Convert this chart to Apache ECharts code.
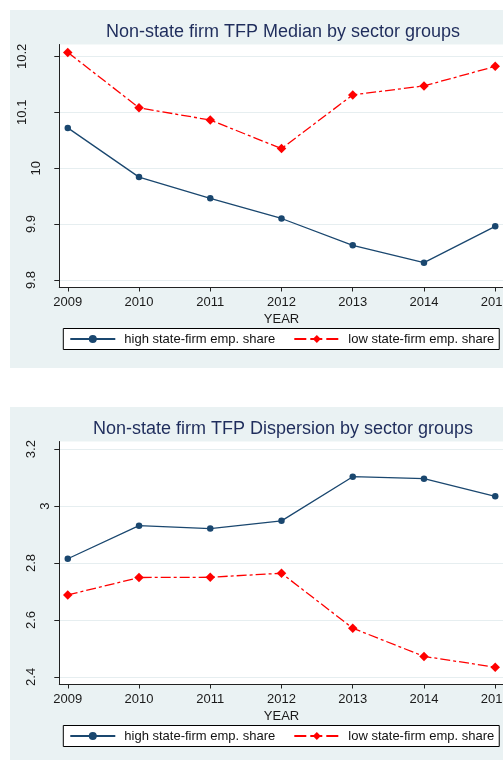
<!DOCTYPE html>
<html><head><meta charset="utf-8">
<script src="https://cdn.jsdelivr.net/npm/echarts@6/dist/echarts.min.js"></script>
<style>
html,body{margin:0;padding:0;width:503px;height:760px;overflow:hidden;background:#fff;position:relative}
.panel{position:absolute;left:10px;width:546px;background:#eaf2f3}
#c1{top:10px;height:358px}
#c2{top:407px;height:353px}
</style></head><body>
<div id="c1" class="panel"></div><div id="c2" class="panel"></div>
<script>
const years = [2009, 2010, 2011, 2012, 2013, 2014, 2015];
const medianHigh = [10.072, 9.984, 9.946, 9.910, 9.862, 9.831, 9.896];
const medianLow = [10.207, 10.108, 10.086, 10.035, 10.131, 10.147, 10.182];
const dispHigh = [2.815, 2.931, 2.921, 2.948, 3.103, 3.096, 3.034];
const dispLow = [2.688, 2.749, 2.750, 2.764, 2.571, 2.472, 2.434];
const medianTicks = [9.8, 9.9, 10, 10.1, 10.2];
const dispTicks = [2.4, 2.6, 2.8, 3, 3.2];
const seriesNames = ['high state-firm emp. share', 'low state-firm emp. share'];
const titles = ['Non-state firm TFP Median by sector groups', 'Non-state firm TFP Dispersion by sector groups'];
const xName = 'YEAR';

const FONT = '"Liberation Sans", Arial, sans-serif';
const navy = '#1a476f';
const red = '#ff0000';
const ctx = document.createElement('canvas').getContext('2d');
ctx.font = '13px "Liberation Sans"';

function yLabelRich(ticks) {
  const rich = {};
  ticks.forEach((t, i) => {
    const w = ctx.measureText(String(t)).width;
    rich['p' + i] = {fontSize: 13, fontFamily: FONT, color: '#1a1a1a', padding: [0, 0, Math.max(0, 1.25 * w - 8.2), 0]};
  });
  return rich;
}

function makeOption(title, high, low, ticks, ymin, ymax) {
  return {
    animation: false,
    textStyle: {fontFamily: FONT},
    title: {
      text: title, left: 'center', top: 13, padding: 0,
      textStyle: {fontSize: 18, fontWeight: 'normal', color: '#1f2d5c', fontFamily: FONT}
    },
    legend: {
      left: 53.3, top: 318.5, orient: 'horizontal',
      itemWidth: 45, itemHeight: 10, itemGap: 18,
      padding: [4, 5, 4, 6],
      borderColor: '#000', borderWidth: 1, backgroundColor: '#fff',
      textStyle: {fontSize: 13, color: '#111', fontFamily: FONT, padding: [0, 0, 0, 4]},
      data: [
        {name: seriesNames[0]},
        {name: seriesNames[1], lineStyle: {type: [12, 4]}}
      ]
    },
    grid: {
      left: 49.3, top: 34.5, width: 444.4, height: 243,
      show: true, backgroundColor: '#fff', borderWidth: 0, containLabel: false
    },
    xAxis: {
      type: 'value', min: 2008.881, max: 2015.119,
      name: xName, nameLocation: 'middle', nameGap: 19,
      nameTextStyle: {fontSize: 13, color: '#1a1a1a', fontFamily: FONT},
      axisLine: {show: true, lineStyle: {color: '#222', width: 1}},
      axisTick: {show: true, length: 4, customValues: years, lineStyle: {color: '#222'}},
      axisLabel: {customValues: years, margin: 8, fontSize: 13, color: '#1a1a1a', fontFamily: FONT,
        formatter: v => String(Math.round(v))},
      splitLine: {show: false}
    },
    yAxis: {
      type: 'value', min: ymin, max: ymax,
      axisLine: {show: true, lineStyle: {color: '#222', width: 1}},
      axisTick: {show: true, length: 5, customValues: ticks, lineStyle: {color: '#222'}},
      axisLabel: {
        customValues: ticks, rotate: 90, margin: 6.5,
        formatter: v => {
          const i = ticks.findIndex(t => Math.abs(t - v) < 1e-9);
          return '{p' + i + '|' + String(ticks[i]) + '}';
        },
        rich: yLabelRich(ticks)
      },
      splitLine: {show: true, lineStyle: {color: '#e6eef0', width: 1}}
    },
    series: [
      {
        name: seriesNames[0], type: 'line',
        data: years.map((y, i) => [y, high[i]]),
        symbol: 'circle', symbolSize: 6.5, showSymbol: true,
        itemStyle: {color: navy}, lineStyle: {color: navy, width: 1.3},
        emphasis: {disabled: true}
      },
      {
        name: seriesNames[1], type: 'line',
        data: years.map((y, i) => [y, low[i]]),
        symbol: 'diamond', symbolSize: 9.5, showSymbol: true,
        itemStyle: {color: red}, lineStyle: {color: red, width: 1.3, type: [10, 3, 3, 3]},
        emphasis: {disabled: true}
      }
    ]
  };
}

const c1 = echarts.init(document.getElementById('c1'), null, {renderer: 'canvas'});
c1.setOption(makeOption(titles[0], medianHigh, medianLow, medianTicks, 9.7866, 10.2211));
const c2 = echarts.init(document.getElementById('c2'), null, {renderer: 'canvas'});
c2.setOption(makeOption(titles[1], dispHigh, dispLow, dispTicks, 2.3733, 3.2267));
</script>
</body></html>
